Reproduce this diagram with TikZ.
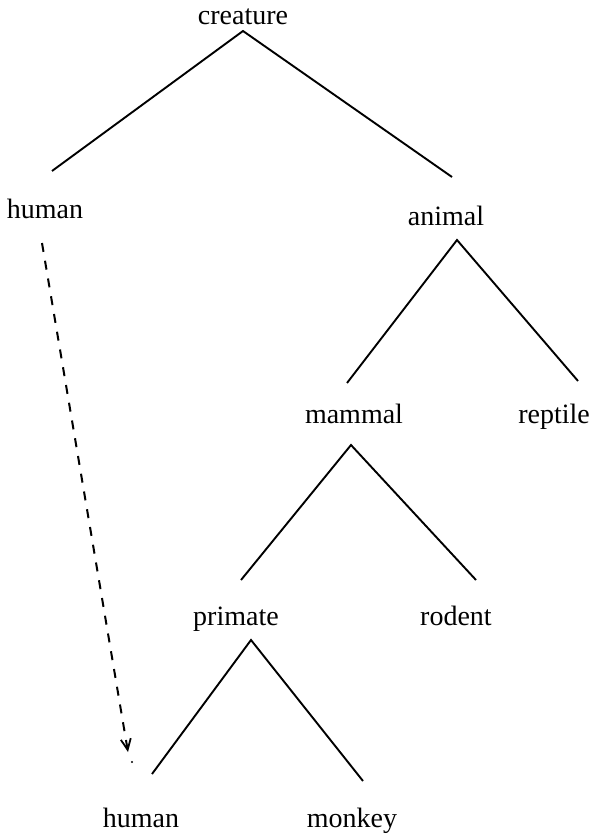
\documentclass[tikz,border=0pt]{standalone}
\usepackage{fontspec}
\setmainfont{Liberation Serif}
\usetikzlibrary{arrows.meta}
\begin{document}
\begin{tikzpicture}[x=1pt,y=-1pt,
  lbl/.style={anchor=base,inner sep=0pt,font=\fontsize{28}{32}\selectfont},
  branch/.style={line width=1.9pt},
  isa/.style={line width=2pt,dash pattern=on 9pt off 9pt,
              -{Straight Barb[length=11pt,width=10pt,line width=1.8pt]}}]
\useasboundingbox (0,0) rectangle (593,837);

% labels
\node[lbl] (creature) at (243,25) {creature};
\node[lbl] (human1)  at (45,218)  {human};
\node[lbl] (animal)  at (446,225) {animal};
\node[lbl] (mammal)  at (354,423) {mammal};
\node[lbl] (reptile) at (554,423) {reptile};
\node[lbl] (primate) at (236,625) {primate};
\node[lbl] (rodent)  at (456,625) {rodent};
\node[lbl] (human2)  at (141,827) {human};
\node[lbl] (monkey)  at (352,827) {monkey};

% branch points
\coordinate (c-top) at (243,31);
\coordinate (c-l)   at (52,171);
\coordinate (c-r)   at (452,177);
\coordinate (a-top) at (457,240);
\coordinate (a-l)   at (347,383);
\coordinate (a-r)   at (578,381);
\coordinate (m-top) at (351,445);
\coordinate (m-l)   at (241,580);
\coordinate (m-r)   at (476,580);
\coordinate (p-top) at (251,640);
\coordinate (p-l)   at (152,774);
\coordinate (p-r)   at (363,781);

\draw[branch] (c-l) -- (c-top) -- (c-r);
\draw[branch] (a-l) -- (a-top) -- (a-r);
\draw[branch] (m-l) -- (m-top) -- (m-r);
\draw[branch] (p-l) -- (p-top) -- (p-r);

% inheritance link
\coordinate (link-s) at (42,243);
\coordinate (link-e) at (128,752);
\draw[isa] (link-s) -- (link-e);
\fill (132,762) circle (1.1pt);
\end{tikzpicture}
\end{document}
